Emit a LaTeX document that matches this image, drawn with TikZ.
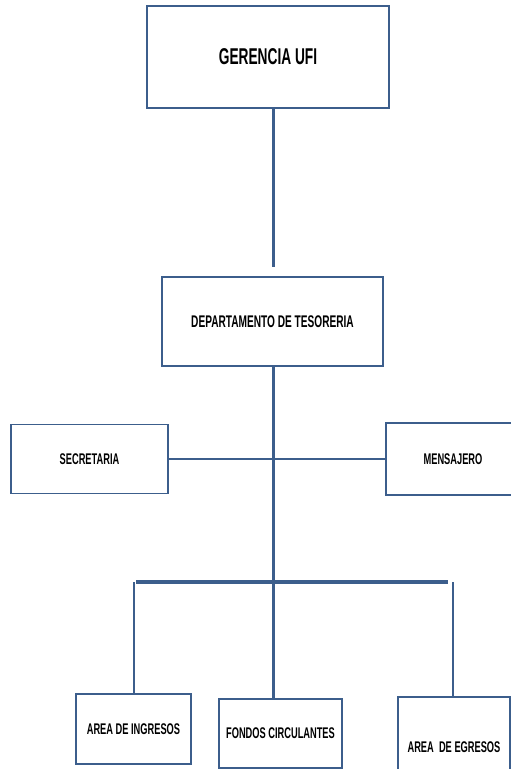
\documentclass[tikz,border=0pt]{standalone}
\usepackage{fontspec}
\setmainfont{Liberation Sans}[FakeStretch=0.6]
\definecolor{azul}{RGB}{60,94,140}
\begin{document}
\begin{tikzpicture}[
  caja/.style={draw=azul,line width=1.1pt,inner sep=0pt,font=\bfseries\fontsize{8.8}{10}\selectfont},
  linea/.style={draw=azul,line width=1.4pt}]
\useasboundingbox (0,0) rectangle (10.22,-15.38);
% cajas
\node[caja,minimum width=4.84cm,minimum height=2.04cm,font=\bfseries\fontsize{13}{14}\selectfont] (gerencia) at (5.36,-1.14) {GERENCIA UFI};
\node[caja,minimum width=4.42cm,minimum height=1.78cm,font=\bfseries\fontsize{9.6}{12}\selectfont] (depto) at (5.45,-6.43) {DEPARTAMENTO DE TESORERIA};
\node[caja,minimum width=3.14cm,minimum height=1.38cm] (secretaria) at (1.79,-9.18) {SECRETARIA};
\node[caja,minimum width=2.68cm,minimum height=1.44cm] (mensajero) at (9.06,-9.18) {MENSAJERO};
\node[caja,minimum width=2.30cm,minimum height=1.40cm] (ingresos) at (2.67,-14.58) {AREA DE INGRESOS};
\node[caja,minimum width=2.46cm,minimum height=1.38cm] (fondos) at (5.61,-14.67) {FONDOS CIRCULANTES};
\node[caja,minimum width=2.24cm,minimum height=2.00cm] (egresos) at (9.08,-14.94) {AREA \ DE EGRESOS};
% lineas
\coordinate (eje) at (5.47,0);
\coordinate (barI) at (2.68,-11.64);
\coordinate (barD) at (9.06,-11.64);
\draw[linea,shorten >=0.18cm] (gerencia.south -| eje) -- (depto.north -| eje);
\draw[linea] (depto.south -| eje) -- (fondos.north -| eje);
\draw[linea] (secretaria.east) -- (mensajero.west);
\draw[linea,line width=2.2pt] ([xshift=0.04cm]barI) -- ([xshift=-0.1cm]barD);
\draw[linea] (barI) -- (ingresos.north -| barI);
\draw[linea] (barD) -- (egresos.north -| barD);
\end{tikzpicture}
\end{document}
